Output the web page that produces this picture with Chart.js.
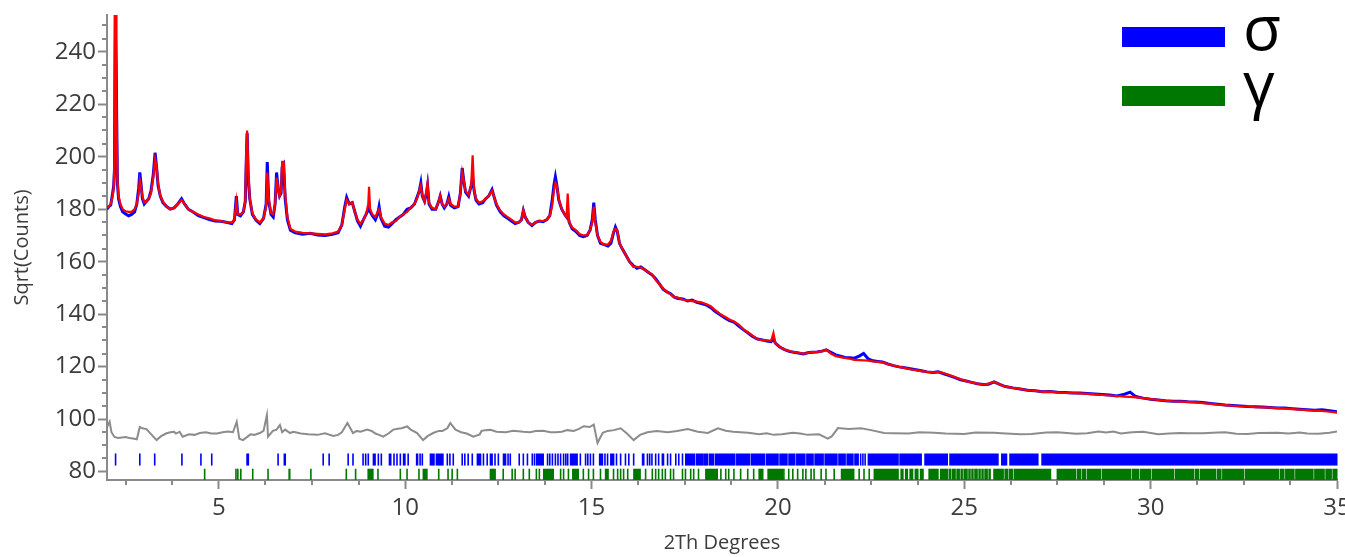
<!DOCTYPE html>
<html>
<head>
<meta charset="utf-8">
<script src="https://cdn.jsdelivr.net/npm/chart.js@4.4.1/dist/chart.umd.min.js"></script>
<style>
  html, body { margin: 0; padding: 0; background: #ffffff; }
  #wrap { position: relative; width: 1345px; height: 557px; overflow: hidden; }
  canvas { display: block; }
  .legbar { position: absolute; left: 1122px; width: 103px; height: 20px; }
  .legtxt { position: absolute; left: 1243px; font-family: "Open Sans", sans-serif; font-size: 62px; line-height: 62px; color: #000; }
</style>
</head>
<body>
<div id="wrap">
  <canvas id="c" width="1345" height="557"></canvas>
  <div class="legbar" style="top:27px;background:#0000ff"></div>
  <div class="legtxt" id="lt0" style="top:-5px">σ</div>
  <div class="legbar" style="top:86px;background:#007800"></div>
  <div class="legtxt" id="lt1" style="top:51px">γ</div>
</div>
<script>
// ---------------- DATA ----------------
const legendLabels = ["σ", "γ"];
const xTickValues = [5, 10, 15, 20, 25, 30, 35];
const yTickValues = [80, 100, 120, 140, 160, 180, 200, 220, 240];
const xMinorTicks = [2.5,3.75,6.25,7.5,8.75,11.25,12.5,13.75,16.25,17.5,18.75,21.25,22.5,23.75,26.25,27.5,28.75,31.25,32.5,33.75];
const yMinorTicks = [85,90,95,105,110,115,125,130,135,145,150,155,165,170,175,185,190,195,205,210,215,225,230,235,245,250];

const twoTheta = [
  2.00,2.05,2.10,2.15,2.18,2.20,2.22,2.24,2.26,2.28,
  2.31,2.36,2.42,2.50,2.58,2.66,2.74,2.80,2.85,2.88,
  2.91,2.95,3.00,3.06,3.12,3.18,3.24,3.29,3.33,3.37,
  3.43,3.50,3.60,3.70,3.80,3.90,4.00,4.08,4.18,4.30,
  4.45,4.60,4.75,4.90,5.05,5.20,5.35,5.42,5.47,5.51,
  5.58,5.66,5.71,5.74,5.76,5.79,5.83,5.90,6.00,6.10,
  6.20,6.27,6.30,6.34,6.40,6.46,6.51,6.55,6.59,6.63,
  6.67,6.70,6.74,6.78,6.84,6.92,7.05,7.25,7.45,7.65,
  7.85,8.05,8.20,8.30,8.38,8.43,8.50,8.58,8.65,8.72,
  8.80,8.88,8.95,9.01,9.03,9.06,9.12,9.20,9.26,9.30,
  9.35,9.45,9.55,9.65,9.75,9.85,9.95,10.05,10.15,10.25,
  10.33,10.38,10.42,10.46,10.52,10.57,10.60,10.64,10.72,10.82,
  10.90,10.94,10.99,11.05,11.12,11.17,11.22,11.32,11.42,11.48,
  11.53,11.57,11.62,11.70,11.77,11.81,11.85,11.90,11.98,12.08,
  12.16,12.24,12.33,12.38,12.45,12.55,12.65,12.75,12.85,12.95,
  13.05,13.12,13.17,13.22,13.30,13.40,13.50,13.60,13.70,13.80,
  13.88,13.94,13.99,14.03,14.07,14.12,14.20,14.28,14.33,14.36,
  14.40,14.48,14.58,14.68,14.78,14.88,14.96,15.02,15.06,15.10,
  15.16,15.24,15.34,15.44,15.52,15.59,15.64,15.69,15.75,15.82,
  15.92,16.02,16.12,16.22,16.32,16.42,16.52,16.62,16.72,16.82,
  16.92,17.02,17.12,17.22,17.32,17.45,17.58,17.70,17.82,17.95,
  18.08,18.20,18.32,18.45,18.58,18.70,18.82,18.95,19.08,19.20,
  19.32,19.45,19.58,19.70,19.82,19.88,19.93,20.05,20.18,20.30,
  20.42,20.55,20.68,20.80,20.92,21.05,21.18,21.30,21.42,21.55,
  21.68,21.80,21.92,22.05,22.18,22.30,22.42,22.55,22.68,22.80,
  22.95,23.10,23.25,23.40,23.55,23.70,23.85,24.00,24.15,24.30,
  24.45,24.60,24.75,24.90,25.05,25.20,25.35,25.50,25.65,25.80,
  25.95,26.10,26.30,26.50,26.70,26.90,27.10,27.30,27.50,27.70,
  27.90,28.10,28.30,28.50,28.70,28.90,29.10,29.30,29.45,29.60,
  29.80,30.00,30.20,30.40,30.60,30.80,31.00,31.20,31.40,31.60,
  31.80,32.00,32.20,32.40,32.60,32.80,33.00,33.20,33.40,33.60,
  33.80,34.00,34.20,34.40,34.60,34.80,35.00
];

const observed = [
  180.0,181.0,181.5,186.0,189.0,195.0,255.0,246.0,215.0,190.0,
  184,181,179,178.2,177.5,178,179,182,188,194,
  190,184,182,183,184,187,193,201.5,196,189,
  185,182.5,181,180,180.5,182,184,182,180,179,
  177.5,176.8,176,175.5,175.4,175,174.5,176,185,178,
  177.5,179,183,200,209,192,184,178,175.8,174.5,
  176.5,182,198,183,178,177,182,194,188,185,
  186,196,197,184,176,172,171,170.5,170.8,170.2,
  170.0,170.4,171,174,181,184.5,182,182.5,179,175.5,
  173.5,176,178,180,181,179,177.5,176,178,181,
  176.5,173.5,173.2,174.5,176,177,178,180,180.5,182,
  185,187,190,185,183,186,189,182,180,180,
  183,185,182,180.5,182,184.8,181.5,180.5,181,186,
  195.7,191,186.5,185,189,192,187,183.5,182,182.5,
  184,185,187.5,185,181.5,179,177.5,176.5,175.5,174.5,
  175,176,179.5,177,175,173.8,175,175.5,175.2,176,
  177.5,183,189,192.3,189,183.5,180,178,177,178,
  175,172.5,171.5,170,169.5,170,172,176,182.5,176,
  170,167,166.5,166,167,171,173.2,171.5,167,165,
  162.5,160,158.5,157.5,158,157,156,155,153.5,151.5,
  149.5,148.5,147.8,146.5,146,145.8,145,145.4,144.5,144,
  143.5,142.5,141,139.8,138.5,137.5,137,135.5,134,132.8,
  131.5,130.5,130.2,129.8,129.5,131,129,127.5,126.5,125.8,
  125.5,125.2,124.8,125.3,125.5,125.6,125.9,126.4,125.5,124.5,
  124,123.5,123.4,123.2,124,125,123,122.2,122,121.8,
  121,120.4,119.9,119.6,119.2,118.8,118.4,118,117.8,118,
  117.3,116.6,115.8,115,114.5,114,113.5,113.2,113.3,114.2,
  113.2,112.4,111.9,111.5,111,110.8,110.4,110.5,110.2,110.1,
  110,110,109.8,109.6,109.4,109.2,108.8,109.5,110.3,108.6,
  108,107.6,107.3,107,106.8,106.8,106.6,106.5,106.3,106,
  105.7,105.4,105.2,105,104.8,104.7,104.6,104.4,104.2,104.2,
  104,103.8,103.6,103.4,103.6,103.2,102.8
];

const calculated = [
  180.5,181.0,182.0,185.0,188.0,200.0,258.0,245.0,213.0,191.0,
  185,182,180,179.2,179,179,180,182,186,191,
  189,185,182.5,183,184,186,192,199,196,190,
  185,183,181,180,180.5,182,183.5,182,180,179,
  178,177,176.5,175.8,175.5,175,175,176,183,178,
  178,179,183,205,210,195,184,178.5,176,175,
  176.5,181,194,184,178.5,178,182,192,188,185,
  187,198,198,186,177,172.5,171.5,171,170.8,170.6,
  170.4,170.8,171.5,174,180,183.5,182,182.5,179,176,
  174.5,176,178,182,188.5,180,178,177,179,180,
  177,174.5,174,175,175.5,177,178,179,180.5,182,
  184.5,187,189,185,183,187,190,182.5,180.5,180,
  183,185,182,181,182,184,182,181,181,186,
  194,191,187,185.5,189,200.5,187,184,182.5,183,
  184,185,187,185,182,179.5,178,177,176,175,
  175,176,179.7,177,175,174,175,175.5,175.5,176,
  177.5,181,187,190,189,184,180,178,177,186,
  175,173,172,170.5,170,170,172,175,181,175,
  170,167.5,166.5,166.5,168,171.5,172.5,172,167,165,
  162.5,160,158,158,157.8,157,156,155.2,153,151.5,
  149.8,148.5,147.5,146.5,146.3,145.5,145.2,145,144.8,144.5,
  143.8,143,141.5,140,139,138,137.2,136,134.2,133,
  131.8,130.5,130,130,129.8,132.8,129,127.5,126.5,126,
  125.5,125.3,125,125.2,125.5,125.6,125.8,126.4,125,124,
  123.6,123.3,123,122.6,122.5,122.4,122.3,122,121.8,121.6,
  121,120.4,119.9,119.5,119,118.7,118.3,118,117.8,118,
  117.5,116.8,116,115.2,114.5,114,113.5,113.2,113.5,114.2,
  113.2,112.4,111.9,111.5,111,110.8,110.4,110.5,110.2,110,
  110,109.8,109.6,109.4,109.2,109,108.8,108.6,108.5,108.3,
  108,107.6,107.3,107,106.8,106.7,106.6,106.4,106.1,105.8,
  105.5,105.3,105.1,104.9,104.8,104.6,104.5,104.4,104.2,104,
  103.8,103.6,103.4,103.2,103.1,102.8,102.5
];

const diffTheta = [
  2.00,2.07,2.12,2.20,2.30,2.40,2.50,2.60,2.70,2.80,
  2.88,2.95,3.06,3.20,3.33,3.45,3.60,3.70,3.80,3.85,
  3.95,4.03,4.20,4.35,4.49,4.65,4.80,4.95,5.10,5.25,
  5.38,5.48,5.55,5.65,5.85,5.95,6.10,6.20,6.29,6.32,
  6.45,6.55,6.64,6.70,6.78,6.91,7.00,7.20,7.40,7.64,
  7.85,8.07,8.20,8.30,8.45,8.60,8.70,8.80,8.98,9.10,
  9.20,9.30,9.41,9.55,9.68,9.80,9.90,10.05,10.15,10.32,
  10.48,10.60,10.75,10.90,11.00,11.13,11.21,11.35,11.50,11.65,
  11.83,12.00,12.05,12.15,12.29,12.45,12.70,12.90,13.17,13.35,
  13.50,13.70,13.90,14.05,14.20,14.35,14.52,14.65,14.79,14.95,
  15.06,15.16,15.30,15.43,15.60,15.78,15.95,16.13,16.30,16.50,
  16.75,17.04,17.30,17.58,17.85,18.12,18.39,18.60,18.80,19.00,
  19.20,19.50,19.70,19.89,20.10,20.40,20.60,20.80,21.10,21.34,
  21.45,21.61,21.90,22.23,22.50,22.85,23.10,23.50,23.80,24.20,
  24.50,25.00,25.30,25.80,26.00,26.50,26.80,27.20,27.50,28.00,
  28.30,28.60,28.80,29.00,29.20,29.50,29.80,30.20,30.50,30.80,
  31.00,31.40,31.80,32.00,32.30,32.60,32.90,33.40,33.70,34.00,
  34.20,34.50,34.80,35.00
];
const difference = [
  97,99,95,93.2,92.8,93,93.2,92.8,92.6,92.3,
  97,96.5,96.2,94,92,93.5,94.6,95,95.2,94.5,
  95.2,93.3,94.2,94,94.7,95,94.5,94.5,95,95.3,
  95,99,92.5,92,94.2,94,94.7,95.5,101.6,93.3,
  95.5,96,97.8,95,96,94.7,95.2,94.5,94.2,94,
  94.6,93.6,94,95,98.5,94.7,95.5,95.2,96,95.5,
  94.5,94,93.3,94.5,96,96.3,96.5,97.2,96,94.7,
  92,93.5,94.7,95.5,95.5,96.5,98.5,96,95,94.5,
  93.3,94.2,95.5,95.8,95.9,95.2,95,95.6,95.2,95,
  95.5,95.6,95,95,95.2,95.8,95.5,96.2,97.3,97,
  97.9,90.9,94.8,95.5,95.8,96.5,94.5,92,94,95,
  95.5,95,95.5,96.2,95.2,94.7,96.5,95.6,95.2,95,
  94.8,94.2,94.6,94,94.2,94.8,94.5,94,94.2,92.6,
  93.5,96.6,96.2,96.5,95.8,94.7,94.6,94.5,95,94.8,
  94.5,94.3,94.9,94.8,94.6,94.2,94.3,94.9,95,94.4,
  94.6,95.3,94.9,95.3,94.5,95,95.2,94.2,94.5,94.7,
  94.6,94.6,94.9,95,94.4,94.3,94.7,94.8,94.5,94.9,
  94.5,94.4,94.8,95.3
];

// reflection positions (2θ) — single lines and dense clusters [from, to]
const sigmaTicks = [2.23,2.88,3.28,4.01,4.52,4.81,6.59,7.80,7.96,8.47,8.60,8.87,8.94,9.01,9.28,9.36,9.70,9.78,9.87,10.08,
  10.40,10.46,11.13,11.20,11.29,11.53,11.60,11.69,11.80,12.10,12.20,12.41,12.50,12.76,12.82,13.06,13.17,13.28,13.41,13.47,
  13.82,13.88,13.95,14.03,14.10,14.17,14.25,14.31,14.36,14.70,14.84,14.90,14.97,15.05,15.36,15.43,15.67,15.78,15.91,16.00,
  16.13,16.37,16.40,16.50,16.56,16.62,16.72,16.80,16.90,16.93,17.04,17.12,17.26,17.34,17.44,22.22,22.28,22.34];
const sigmaBands = [[5.75,5.80],[6.75,6.79],[9.14,9.20],[9.57,9.62],[9.95,10.00],[10.30,10.34],[10.67,10.78],[10.83,11.02],
  [11.93,12.03],[12.28,12.34],[12.63,12.70],[13.52,13.71],[14.43,14.62],[15.21,15.30],[15.51,15.60],[17.52,17.77],[17.81,18.00],
  [18.03,18.12],[18.16,18.28],[18.32,18.85],[18.89,19.25],[19.29,19.65],[19.69,20.01],[20.05,20.25],[20.29,20.46],[20.50,20.73],
  [20.77,20.95],[20.99,21.22],[21.26,21.59],[21.63,21.81],[21.85,22.02],[22.06,22.16],[22.42,23.23],[23.27,23.85],[23.94,24.55],
  [24.61,25.91],[26.00,26.14],[26.22,26.98],[27.08,35.00]];
const gammaTicks = [4.62,5.46,5.51,5.59,5.91,6.32,7.47,8.42,8.67,9.27,9.87,10.05,10.37,10.90,11.15,11.26,11.40,12.63,12.87,12.95,
  13.17,13.33,13.52,13.60,14.17,14.25,14.38,14.78,14.92,15.05,15.24,15.59,15.70,15.78,15.86,15.97,16.45,16.63,16.72,16.80,
  16.90,16.98,17.12,17.20,17.44,17.52,17.66,17.74,17.87,18.47,18.60,18.68,18.82,19.00,19.19,19.35,20.16,20.29,20.40,20.53,
  20.67,20.75,20.89,20.97,21.16,21.29,21.51,22.18,22.31,22.45];
const gammaBands = [[6.88,6.91],[9.00,9.14],[10.48,10.59],[12.28,12.42],[13.71,13.98],[14.49,14.65],[15.37,15.45],[16.13,16.31],
  [18.06,18.38],[19.49,19.60],[19.73,20.13],[21.70,22.04],[22.58,23.23],[23.30,23.36],[23.42,23.48],[23.54,23.62],[23.68,23.76],
  [23.82,23.90],[24.05,24.30],[24.36,24.55],[24.59,24.63],[24.67,24.76],[24.80,24.87],[24.91,24.95],[24.99,25.08],[25.12,25.16],
  [25.20,25.24],[25.28,25.35],[25.39,25.43],[25.47,25.51],[25.55,25.62],[25.66,25.70],[25.79,26.05],[26.09,26.16],[26.20,26.30],
  [26.34,27.32],[27.49,27.99],[28.03,28.12],[28.16,28.26],[28.30,28.66],[28.70,29.47],[29.51,29.68],[29.72,30.00],[30.04,30.62],
  [30.66,31.16],[31.20,31.29],[31.33,31.75],[31.79,31.89],[31.93,32.50],[32.54,33.44],[33.48,33.58],[33.62,33.85],[33.89,34.36],
  [34.40,34.66],[34.70,34.85],[34.89,35.00]];

// ---------------- STYLE / LAYOUT ----------------
const AXIS_GRAY = '#8a8a8a';
const TEXT_GRAY = '#3c3c3c';
const FONT = '"Open Sans", "Noto Sans", sans-serif';
const SIGMA_ROW = { lo: 82.3, hi: 86.9 };
const GAMMA_ROW = { lo: 76.8, hi: 81.1 };

const reflectionPlugin = {
  id: 'reflections',
  afterDatasetsDraw(chart) {
    const { ctx, scales: { x, y } } = chart;
    const drawRow = (singles, bands, color, row) => {
      const yt = y.getPixelForValue(row.hi), yb = y.getPixelForValue(row.lo);
      ctx.save();
      ctx.fillStyle = color;
      singles.forEach(v => {
        const p = x.getPixelForValue(v);
        ctx.fillRect(p - 0.8, yt, 1.6, yb - yt);
      });
      bands.forEach(([a, b]) => {
        const p1 = x.getPixelForValue(a), p2 = x.getPixelForValue(b);
        ctx.fillRect(p1 - 0.5, yt, Math.max(p2 - p1, 0) + 1, yb - yt);
      });
      ctx.restore();
    };
    drawRow(sigmaTicks, sigmaBands, '#0000ff', SIGMA_ROW);
    drawRow(gammaTicks, gammaBands, '#007800', GAMMA_ROW);
  },
  afterDraw(chart) {
    const { ctx, scales: { x, y }, chartArea } = chart;
    ctx.save();
    ctx.strokeStyle = AXIS_GRAY;
    ctx.lineWidth = 2;
    ctx.beginPath();
    xMinorTicks.forEach(v => {
      const p = Math.round(x.getPixelForValue(v));
      ctx.moveTo(p, chartArea.bottom); ctx.lineTo(p, chartArea.bottom + 5);
    });
    yMinorTicks.forEach(v => {
      const p = Math.round(y.getPixelForValue(v));
      ctx.moveTo(chartArea.left, p); ctx.lineTo(chartArea.left - 5, p);
    });
    ctx.stroke();
    ctx.restore();
  }
};

const toPts = (xs, ys) => xs.map((v, i) => ({ x: v, y: ys[i] }));

new Chart(document.getElementById('c'), {
  type: 'line',
  data: {
    datasets: [
      { label: 'Calculated', data: toPts(twoTheta, calculated), borderColor: '#ff0000', borderWidth: 2.2, pointRadius: 0, tension: 0 },
      { label: 'Observed', data: toPts(twoTheta, observed), borderColor: '#0000ff', borderWidth: 3, pointRadius: 0, tension: 0 },
      { label: 'Difference', data: toPts(diffTheta, difference), borderColor: '#8c8c8c', borderWidth: 2, pointRadius: 0, tension: 0 }
    ]
  },
  options: {
    responsive: false,
    animation: false,
    devicePixelRatio: 1,
    layout: { padding: { top: 15, right: 8, left: 0, bottom: 0 } },
    plugins: { legend: { display: false }, tooltip: { enabled: false } },
    scales: {
      x: {
        type: 'linear', min: 2, max: 35,
        afterBuildTicks: s => { s.ticks = xTickValues.map(v => ({ value: v })); },
        afterFit: s => { s.height = 77; s.paddingLeft = 0; s.paddingRight = 0; },
        ticks: { font: { family: FONT, size: 24 }, color: TEXT_GRAY, padding: 5, maxRotation: 0, autoSkip: false },
        grid: { drawOnChartArea: false, drawTicks: true, tickLength: 9, tickWidth: 2, tickColor: AXIS_GRAY },
        border: { display: true, color: AXIS_GRAY, width: 2 },
        title: { display: true, text: '2Th Degrees', font: { family: FONT, size: 20 }, color: TEXT_GRAY, padding: { top: 0, bottom: 2 } }
      },
      y: {
        type: 'linear', min: 76.8, max: 254,
        afterBuildTicks: s => { s.ticks = yTickValues.map(v => ({ value: v })); },
        afterFit: s => { s.width = 107; s.paddingTop = 0; s.paddingBottom = 0; },
        ticks: { font: { family: FONT, size: 24 }, color: TEXT_GRAY, padding: 2, autoSkip: false },
        grid: { drawOnChartArea: false, drawTicks: true, tickLength: 9, tickWidth: 2, tickColor: AXIS_GRAY },
        border: { display: true, color: AXIS_GRAY, width: 2 },
        title: { display: true, text: 'Sqrt(Counts)', font: { family: FONT, size: 20 }, color: TEXT_GRAY, padding: { top: 10, bottom: 0 } }
      }
    }
  },
  plugins: [reflectionPlugin]
});
</script>
</body>
</html>
